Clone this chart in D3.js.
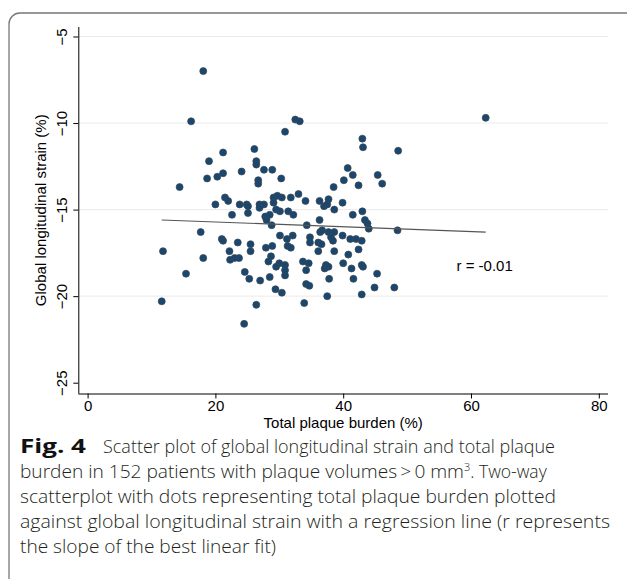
<!DOCTYPE html>
<html>
<head>
<meta charset="utf-8">
<script src="https://cdn.jsdelivr.net/npm/d3@7"></script>
<style>
body { margin: 0; background: #fff; }
svg { display: block; }
</style>
</head>
<body>
<script>
//plaque burden (%) vs global longitudinal strain (%)
var burden = [18.1,16.2,32.5,33.2,30.9,21.2,26.1,19.0,26.4,26.4,27.6,28.9,24.1,21.2,20.3,18.7,26.7,26.7,30.3,14.4,
    38.5,21.5,22.0,20.0,23.8,24.9,25.1,26.9,27.6,26.9,29.1,29.7,30.4,29.1,31.8,33.0,34.1,36.3,37.7,37.0,
    37.5,38.6,22.6,25.1,29.5,30.1,31.4,32.2,27.8,28.5,28.0,28.8,34.3,36.3,43.0,43.1,48.6,62.3,40.7,41.5,
    40.1,42.4,45.4,46.1,39.9,41.5,43.0,43.4,43.8,44.0,48.5,17.7,21.0,21.2,23.5,25.5,25.5,18.1,22.2,22.3,
    23.0,23.7,27.9,28.9,30.1,31.2,32.1,31.3,31.8,34.8,34.8,36.1,36.1,28.7,28.3,30.0,29.5,30.9,30.9,30.9,
    33.7,34.6,34.2,24.6,25.3,27.0,28.5,29.4,30.4,34.2,34.7,26.4,33.9,24.5,11.6,11.8,15.4,36.4,36.7,37.7,
    38.6,38.1,38.4,36.6,39.9,41.1,42.0,42.9,38.6,40.8,42.4,37.3,37.1,37.7,40.0,41.3,42.9,43.1,45.3,37.8,
    41.6,44.9,48.0,37.5,42.9];
var strain = [-7.0,-9.9,-9.8,-9.9,-10.5,-11.7,-11.5,-12.2,-12.2,-12.4,-12.7,-12.7,-12.8,-12.9,-13.1,-13.2,-13.3,-13.5,-13.2,-13.7,
    -13.7,-14.3,-14.5,-14.7,-14.7,-14.7,-14.8,-14.7,-14.7,-14.9,-14.3,-14.2,-14.3,-14.6,-14.3,-14.1,-14.5,-14.5,-14.4,-14.8,
    -14.7,-15.0,-15.3,-15.2,-15.0,-15.1,-15.1,-15.3,-15.4,-15.3,-15.6,-15.9,-15.9,-15.6,-10.9,-11.4,-11.6,-9.7,-12.6,-13.0,
    -13.3,-13.6,-13.0,-13.5,-14.6,-15.3,-15.1,-15.6,-15.8,-16.1,-16.2,-16.3,-16.7,-16.8,-16.9,-17.0,-17.4,-17.8,-17.4,-17.9,
    -17.8,-17.8,-17.2,-17.1,-16.5,-16.7,-16.5,-17.1,-17.2,-16.6,-16.9,-16.9,-17.4,-17.7,-18.0,-18.1,-18.3,-18.2,-18.5,-18.8,
    -18.0,-18.1,-18.5,-18.6,-19.0,-19.1,-18.9,-19.6,-19.8,-19.3,-19.4,-20.5,-20.4,-21.6,-20.3,-17.4,-18.7,-16.3,-16.2,-16.3,
    -16.3,-16.6,-16.8,-17.0,-16.5,-16.7,-16.7,-16.8,-17.4,-17.6,-17.3,-18.2,-18.4,-18.3,-18.1,-18.4,-18.2,-18.3,-18.7,-19.0,
    -19.0,-19.5,-19.5,-20.0,-19.9];

var xTicks = [0, 20, 40, 60, 80];
var yTicks = [-5, -10, -15, -20, -25];
var yGrid = [-5, -10, -15, -20];

//fitted line as drawn
var regIntercept = -15.44;
var regSlope = -0.0138;
var rLabel = "r = -0.01";

var captionLines = [
    "Scatter plot of global longitudinal strain and total plaque",
    "burden in 152 patients with plaque volumes\u2009>\u20090 mm",
    "scatterplot with dots representing total plaque burden plotted",
    "against global longitudinal strain with a regression line (r represents",
    "the slope of the best linear fit)"
];

var width = 627, height = 579;

var svg = d3.select("body").append("svg")
    .attr("width", width)
    .attr("height", height);

//figure frame
svg.append("rect")
    .attr("x", 9).attr("y", 13)
    .attr("width", 660).attr("height", 620)
    .attr("rx", 11)
    .style("fill", "none")
    .style("stroke", "#777")
    .style("stroke-width", 1.3);

var x = d3.scaleLinear().domain([0, 80]).range([87.6, 598.8]);
var y = d3.scaleLinear().domain([-25, -5]).range([382.7, 36.5]);

var axisFont = "'Liberation Sans', Arial, sans-serif";
//plot frame edges (note: "top" is reserved on window)
var plotL = 78.3, plotR = 608, plotT = 27, plotB = 393.5;

//gridlines
svg.selectAll(".grid")
    .data(yGrid)
    .enter()
    .append("line")
    .attr("class", "grid")
    .attr("x1", plotL).attr("x2", plotR)
    .attr("y1", function(d){ return y(d); })
    .attr("y2", function(d){ return y(d); })
    .style("stroke", "#ebebeb")
    .style("stroke-width", 1);

//axes
var xAxis = svg.append("g")
    .attr("transform", "translate(0," + plotB + ")")
    .call(d3.axisBottom(x).tickValues(xTicks).tickSize(5).tickPadding(2));
xAxis.select(".domain").attr("d", "M" + plotL + ",0.5H" + plotR);

var yAxis = svg.append("g")
    .attr("transform", "translate(" + plotL + ",0)")
    .call(d3.axisLeft(y).tickValues(yTicks).tickSize(5).tickPadding(3));
yAxis.select(".domain").attr("d", "M0.5," + plotT + "V" + plotB);
yAxis.selectAll(".tick text")
    .attr("transform", "rotate(-90)")
    .attr("x", 0)
    .attr("y", -11)
    .attr("dy", 0)
    .style("text-anchor", "middle");

svg.selectAll(".tick text")
    .style("font-family", axisFont)
    .style("font-size", "15px")
    .style("fill", "#000");
svg.selectAll(".domain, .tick line")
    .style("stroke", "#000")
    .style("stroke-width", 1);

//axis titles
svg.append("text")
    .attr("x", x(40)).attr("y", 428)
    .style("text-anchor", "middle")
    .style("font-family", axisFont)
    .style("font-size", "15px")
    .text("Total plaque burden (%)");

svg.append("text")
    .attr("transform", "translate(46," + ((plotT + plotB) / 2) + ") rotate(-90)")
    .style("text-anchor", "middle")
    .style("font-family", axisFont)
    .style("font-size", "15px")
    .text("Global longitudinal strain (%)");

//points
var pts = burden.map(function(b, i){ return {b: b, s: strain[i]}; });
svg.selectAll(".dot")
    .data(pts)
    .enter()
    .append("circle")
    .attr("class", "dot")
    .attr("cx", function(d){ return x(d.b); })
    .attr("cy", function(d){ return y(d.s); })
    .attr("r", 3.5)
    .style("fill", "#1a476f")
    .style("stroke", "#3b4650")
    .style("stroke-width", 0.7);

//regression line
var ext = d3.extent(burden);
svg.append("path")
    .datum(ext)
    .attr("d", d3.line()
        .x(function(d){ return x(d); })
        .y(function(d){ return y(regIntercept + regSlope * d); }))
    .style("fill", "none")
    .style("stroke", "#555")
    .style("stroke-width", 1.2);

svg.append("text")
    .attr("x", 456.5).attr("y", 271)
    .style("font-family", axisFont)
    .style("font-size", "15px")
    .text(rLabel);

//caption
var capFont = "'Open Sans', 'Noto Sans', sans-serif";
var capY = [453, 478, 503, 528, 553];
var cap = svg.append("g")
    .style("font-family", capFont)
    .style("font-size", "17.5px")
    .style("font-weight", 300)
    .style("fill", "#231f20");

var first = cap.append("text").attr("x", 20).attr("y", capY[0]);
first.append("tspan").style("font-weight", "bold").style("font-size", "20px")
    .style("fill", "#111")
    .attr("textLength", 66).attr("lengthAdjust", "spacingAndGlyphs").text("Fig. 4");
first.append("tspan").attr("x", 103)
    .attr("textLength", 452).attr("lengthAdjust", "spacingAndGlyphs").text(captionLines[0]);

var second = cap.append("text").attr("x", 20).attr("y", capY[1]);
second.append("tspan").text(captionLines[1])
    .attr("textLength", 444).attr("lengthAdjust", "spacingAndGlyphs");
second.append("tspan").attr("dy", -7).style("font-size", "11px").text("3");
second.append("tspan").attr("dy", 7).text(". Two-way");

cap.append("text").attr("x", 20).attr("y", capY[2]).text(captionLines[2])
    .attr("textLength", 536).attr("lengthAdjust", "spacingAndGlyphs");
cap.append("text").attr("x", 20).attr("y", capY[3]).text(captionLines[3])
    .attr("textLength", 590).attr("lengthAdjust", "spacingAndGlyphs");
cap.append("text").attr("x", 20).attr("y", capY[4]).text(captionLines[4])
    .attr("textLength", 256).attr("lengthAdjust", "spacingAndGlyphs");
</script>
</body>
</html>
